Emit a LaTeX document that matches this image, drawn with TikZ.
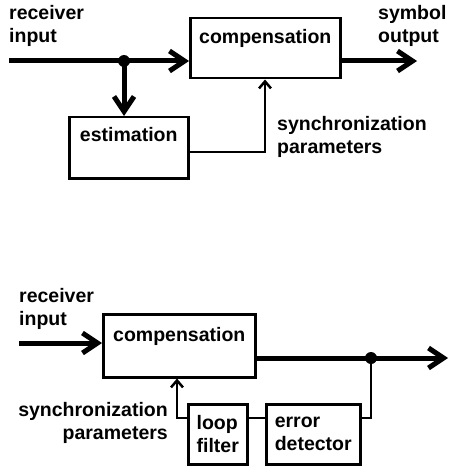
\documentclass[tikz,border=0pt]{standalone}
\usepackage{fontspec}
\setmainfont{Liberation Sans}
\usetikzlibrary{arrows.meta}

\begin{document}
\begin{tikzpicture}[x=1pt,y=-1pt,
		every node/.style={font=\fontsize{19.5}{23}\selectfont\bfseries,inner sep=0pt},
		block/.style={draw,line width=2.5pt},
		sig/.style={line width=5pt,-{Straight Barb[length=15pt,width=20pt]}},
		ctl/.style={line width=2.5pt,-{Straight Barb[length=7pt,width=12pt]}},
		dot/.style={circle,fill,minimum size=12pt}]
	\useasboundingbox (0,0) rectangle (449,468);

	% Feedforward estimation
	\node[block,minimum width=150pt,text height=25pt,text depth=35pt,anchor=north west] (comp_ff) at (189,17) {compensation};
	\node[block,minimum width=119pt,text height=24pt,text depth=37pt,anchor=north west] (est) at (68,116) {estimation};

	\coordinate (in_ff) at (9,61);
	\coordinate (out_ff) at (417,61);
	\node[dot] (split_ff) at (124,61) {};
	\coordinate (bend_ff) at (265,152);

	\draw[sig] (in_ff) -- (in_ff -| comp_ff.west);
	\draw[sig] (out_ff -| comp_ff.east) -- (out_ff);
	\draw[sig] (split_ff.center) -- (split_ff |- est.north);
	\draw[ctl] (est.east |- bend_ff) -- (bend_ff) -- (bend_ff |- comp_ff.south);

	\node[anchor=north west,align=left] (rx_ff) at (9,5) {receiver\\input};
	\node[anchor=north west,align=left] (sym_ff) at (378,5) {symbol\\output};
	\node[anchor=north west,align=left] (sync_ff) at (277,116) {synchronization\\parameters};

	% Feedback loop
	\node[block,minimum width=152pt,text height=27pt,text depth=36pt,anchor=north west] (comp_fb) at (102,313) {compensation};
	\node[block,minimum width=59pt,minimum height=60pt,align=left,anchor=north west] (lf) at (187,403) {loop\\filter};
	\node[block,minimum width=94pt,minimum height=60pt,align=left,anchor=north west] (ed) at (265,403) {error\\detector};

	\coordinate (in_fb) at (19,343);
	\coordinate (out_fb) at (448,358);
	\node[dot] (split_fb) at (371,358) {};
	\coordinate (bend_fb) at (177,418);

	\draw[sig] (in_fb) -- (in_fb -| comp_fb.west);
	\draw[sig] (out_fb -| comp_fb.east) -- (out_fb);
	\draw[line width=2.5pt] (split_fb.center) |- (ed.east |- bend_fb);
	\draw[line width=2.5pt] (lf.east |- bend_fb) -- (ed.west |- bend_fb);
	\draw[ctl] (lf.west |- bend_fb) -- (bend_fb) -- (bend_fb |- comp_fb.south);

	\node[anchor=north west,align=left] (rx_fb) at (19,288) {receiver\\input};
	\node[anchor=north east,align=right] (sync_fb) at (168,402) {synchronization\\parameters};
\end{tikzpicture}
\end{document}
